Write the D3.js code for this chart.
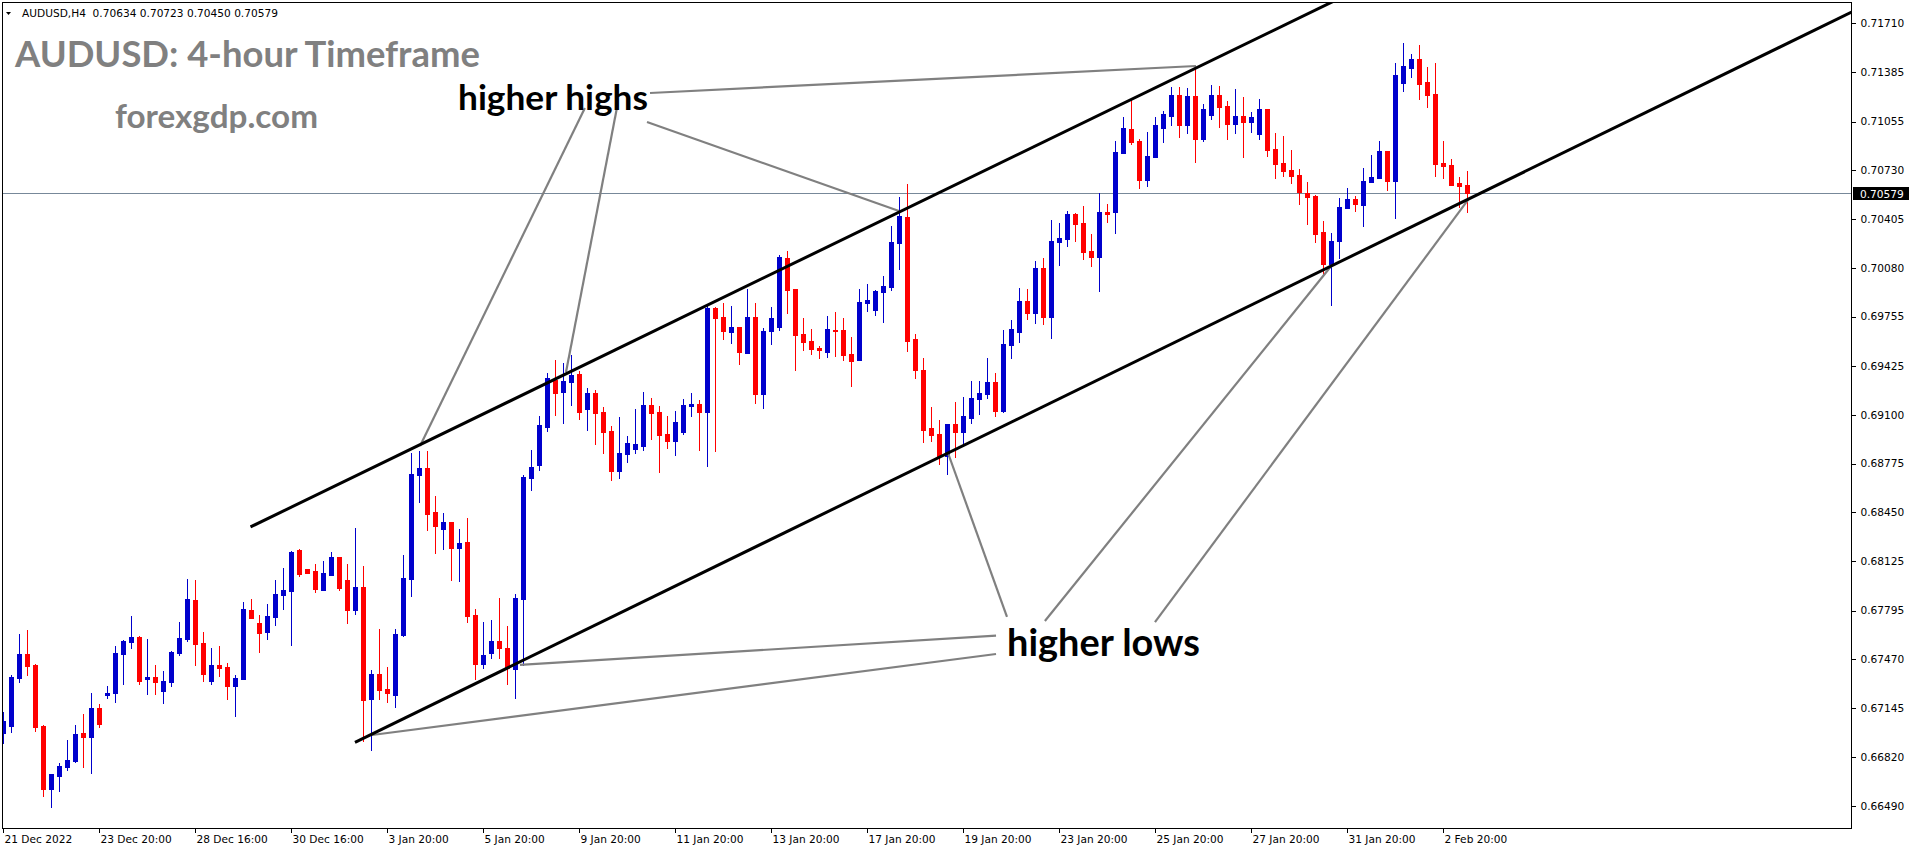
<!DOCTYPE html>
<html><head><meta charset="utf-8">
<script src="https://cdn.jsdelivr.net/npm/d3@7"></script>
<style>html,body{margin:0;padding:0;background:#fff;overflow:hidden}</style>
</head><body>
<svg id="c" width="1916" height="850"></svg>
<script>
// ---------- DATA ----------
const symbolInfo = "AUDUSD,H4  0.70634 0.70723 0.70450 0.70579";
const titleText = "AUDUSD: 4-hour Timeframe";
const siteText = "forexgdp.com";
const bidPrice = 0.70579;

const opens = [0.66981,0.67027,0.67347,0.67507,0.67432,0.67027,0.66605,0.66694,0.66754,0.66792,0.66978,0.66954,0.67145,0.67234,0.67247,0.67507,0.67587,0.67618,0.67336,0.67352,
0.67261,0.67321,0.67514,0.67607,0.67865,0.67578,0.67327,0.67432,0.67418,0.67294,0.67341,0.67798,0.67712,0.67654,0.67754,0.67901,0.67927,0.68198,0.68072,0.68058,
0.67934,0.68034,0.68152,0.67998,0.67801,0.67952,0.67207,0.67372,0.67272,0.67234,0.67634,0.68007,0.68701,0.68745,0.68452,0.68341,0.68385,0.68214,0.68254,0.67765,
0.67441,0.67514,0.67592,0.67545,0.67407,0.67874,0.68681,0.68765,0.69021,0.69332,0.69254,0.69321,0.69374,0.69141,0.69245,0.69118,0.68992,0.68727,0.68841,0.68874,
0.68894,0.69165,0.69118,0.68974,0.68927,0.68985,0.69161,0.69172,0.69121,0.69812,0.69752,0.69652,0.69685,0.69514,0.69752,0.69241,0.69658,0.69685,0.70145,0.69938,
0.69638,0.69592,0.69545,0.69518,0.69665,0.69665,0.69505,0.69465,0.69847,0.69798,0.69918,0.69952,0.70247,0.70418,0.69605,0.69398,0.69014,0.68972,0.68827,0.69038,
0.68987,0.69081,0.69207,0.69241,0.69318,0.69127,0.69567,0.69654,0.69858,0.69781,0.70078,0.69754,0.70252,0.70274,0.70438,0.70378,0.70192,0.70154,0.70452,0.70454,
0.70847,0.71005,0.70925,0.70667,0.70821,0.71014,0.71094,0.71232,0.71034,0.71225,0.70941,0.71101,0.71232,0.71158,0.71041,0.71092,0.71054,0.70974,0.71138,0.70874,
0.70778,0.70732,0.70698,0.70578,0.70558,0.70318,0.70107,0.70261,0.70481,0.70538,0.70498,0.70654,0.70681,0.70858,0.70661,0.71314,0.71414,0.71472,0.71318,0.71238,
0.70781,0.70765,0.70645,0.70634];
const highs = [0.67121,0.67367,0.67638,0.67665,0.67438,0.67032,0.66705,0.66778,0.66932,0.67032,0.67105,0.67245,0.67172,0.67292,0.67558,0.67598,0.67758,0.67622,0.67605,0.67432,
0.67392,0.67525,0.67718,0.68005,0.67998,0.67652,0.67545,0.67558,0.67445,0.67365,0.67852,0.67872,0.67765,0.67838,0.67998,0.68078,0.68192,0.68205,0.68075,0.68105,
0.68125,0.68185,0.68155,0.68105,0.68345,0.68092,0.67398,0.67672,0.67418,0.67672,0.68165,0.68845,0.68858,0.68858,0.68558,0.68445,0.68388,0.68338,0.68412,0.67805,
0.67718,0.67732,0.67881,0.67694,0.67907,0.68698,0.68865,0.69092,0.69378,0.69465,0.69445,0.69498,0.69392,0.69278,0.69265,0.69152,0.69025,0.69085,0.68958,0.69138,
0.69252,0.69212,0.69158,0.69094,0.69125,0.69205,0.69245,0.69198,0.69825,0.69818,0.69845,0.69825,0.69688,0.69938,0.69845,0.69678,0.69818,0.70165,0.70192,0.69941,
0.69745,0.69672,0.69558,0.69758,0.69785,0.69745,0.69618,0.69938,0.69972,0.69932,0.70025,0.70358,0.70552,0.70638,0.69638,0.69478,0.69154,0.69067,0.69041,0.69185,
0.69218,0.69325,0.69325,0.69478,0.69378,0.69665,0.69732,0.69945,0.69938,0.70125,0.70145,0.70398,0.70378,0.70458,0.70445,0.70492,0.70305,0.70578,0.70505,0.70925,
0.71085,0.71205,0.70938,0.70985,0.71085,0.71125,0.71285,0.71285,0.71278,0.71425,0.71172,0.71298,0.71292,0.71192,0.71272,0.71218,0.71118,0.71205,0.71141,0.70978,
0.70958,0.70865,0.70738,0.70652,0.70565,0.70392,0.70312,0.70545,0.70612,0.70558,0.70745,0.70832,0.70925,0.70861,0.71445,0.71578,0.71505,0.71565,0.71418,0.71445,
0.70925,0.70805,0.70685,0.70723];
const lows = [0.66909,0.66987,0.67321,0.67365,0.66994,0.66561,0.66487,0.66592,0.66732,0.66785,0.66754,0.66714,0.67021,0.67214,0.67187,0.67307,0.67547,0.67307,0.67241,0.67241,
0.67181,0.67294,0.67501,0.67594,0.67432,0.67327,0.67307,0.67361,0.67207,0.67094,0.67338,0.67744,0.67521,0.67607,0.67701,0.67807,0.67567,0.68027,0.68045,0.67921,
0.67931,0.68031,0.67934,0.67714,0.67774,0.66927,0.66867,0.67207,0.67187,0.67154,0.67627,0.67894,0.68521,0.68334,0.68181,0.68207,0.68001,0.67994,0.67721,0.67341,
0.67414,0.67481,0.67481,0.67307,0.67214,0.67434,0.68601,0.68734,0.68994,0.69101,0.69047,0.69167,0.69074,0.69001,0.68907,0.68847,0.68667,0.68681,0.68787,0.68847,
0.68867,0.68941,0.68721,0.68881,0.68834,0.68974,0.69094,0.68867,0.68761,0.68861,0.69607,0.69578,0.69438,0.69512,0.69178,0.69147,0.69574,0.69665,0.69781,0.69401,
0.69532,0.69505,0.69481,0.69487,0.69494,0.69467,0.69294,0.69462,0.69794,0.69765,0.69718,0.69932,0.70072,0.69525,0.69345,0.68921,0.68927,0.68774,0.68707,0.68821,
0.68894,0.69047,0.69107,0.69214,0.69094,0.69121,0.69478,0.69587,0.69741,0.69714,0.69707,0.69614,0.70101,0.70227,0.70261,0.70141,0.70094,0.69927,0.70387,0.70314,
0.70844,0.70905,0.70614,0.70627,0.70818,0.70921,0.71034,0.70954,0.70981,0.70787,0.70927,0.71074,0.71021,0.70941,0.70981,0.70821,0.70987,0.70941,0.70827,0.70681,
0.70694,0.70647,0.70507,0.70374,0.70254,0.70041,0.69832,0.70147,0.70478,0.70461,0.70361,0.70651,0.70678,0.70601,0.70414,0.71261,0.71354,0.71207,0.71154,0.70694,
0.70681,0.70631,0.70487,0.70450];
const closes = [0.67058,0.67352,0.67507,0.67427,0.67021,0.66605,0.66705,0.66758,0.66798,0.66972,0.66954,0.67145,0.67041,0.67245,0.67512,0.67592,0.67618,0.67327,0.67352,0.67321,
0.67325,0.67518,0.67612,0.67872,0.67574,0.67374,0.67432,0.67414,0.67294,0.67345,0.67805,0.67747,0.67647,0.67758,0.67905,0.67932,0.68185,0.68041,0.68047,0.67941,
0.68045,0.68152,0.67947,0.67801,0.67952,0.67201,0.67372,0.67267,0.67247,0.67638,0.68012,0.68705,0.68745,0.68441,0.68361,0.68385,0.68214,0.68245,0.67761,0.67441,
0.67501,0.67592,0.67547,0.67414,0.67881,0.68687,0.68754,0.69032,0.69345,0.69247,0.69325,0.69367,0.69121,0.69245,0.69114,0.68987,0.68727,0.68847,0.68914,0.68905,
0.69165,0.69114,0.68967,0.68927,0.69052,0.69165,0.69172,0.69121,0.69812,0.69747,0.69661,0.69685,0.69518,0.69752,0.69241,0.69658,0.69745,0.70152,0.69934,0.69632,
0.69585,0.69538,0.69534,0.69672,0.69658,0.69498,0.69458,0.69852,0.69865,0.69925,0.69958,0.70252,0.70425,0.69592,0.69398,0.69001,0.68967,0.68827,0.69038,0.68987,
0.69092,0.69212,0.69245,0.69318,0.69127,0.69572,0.69672,0.69858,0.69781,0.70078,0.69754,0.70258,0.70278,0.70438,0.70374,0.70187,0.70154,0.70452,0.70441,0.70852,
0.71012,0.70918,0.70667,0.70825,0.71032,0.71105,0.71232,0.71034,0.71225,0.70941,0.71138,0.71232,0.71154,0.71041,0.71092,0.71054,0.71085,0.71138,0.70867,0.70774,
0.70727,0.70694,0.70587,0.70554,0.70307,0.70107,0.70258,0.70485,0.70538,0.70507,0.70658,0.70685,0.70858,0.70661,0.71365,0.71425,0.71472,0.71307,0.71234,0.70774,
0.70761,0.70634,0.70627,0.70579];

const yTickValues = [0.71710,0.71385,0.71055,0.70730,0.70405,0.70080,0.69755,0.69425,0.69100,0.68775,0.68450,0.68125,0.67795,0.67470,0.67145,0.66820,0.66490];
const xTickBars = [0,12,24,36,48,60,72,84,96,108,120,132,144,156,168,180];
const xTickLabels = ["21 Dec 2022","23 Dec 20:00","28 Dec 16:00","30 Dec 16:00","3 Jan 20:00","5 Jan 20:00","9 Jan 20:00","11 Jan 20:00","13 Jan 20:00","17 Jan 20:00","19 Jan 20:00","23 Jan 20:00","25 Jan 20:00","27 Jan 20:00","31 Jan 20:00","2 Feb 20:00"];

// trend / channel lines anchored at (bar index, price)
const channelBars1 = [30.9, 170];   const channelPrices1 = [0.68352, 0.71953];
const channelBars2 = [43.96, 231.1]; const channelPrices2 = [0.66916, 0.71786];
// annotation pointer lines (bar index, price) pairs
const highPointerBars   = [[72.7,52.09],[76.7,70.34],[80.84,149.09],[80.46,111.96]];
const highPointerPrices = [[0.71145,0.68892],[0.71145,0.69385],[0.71245,0.71425],[0.71052,0.70458]];
const lowPointerBars    = [[124.09,64.59],[124.09,46.09],[125.46,118.09],[130.2,166.09],[143.96,183.09]];
const lowPointerPrices  = [[0.67628,0.67432],[0.67505,0.66965],[0.67752,0.68845],[0.67725,0.70098],[0.67718,0.70532]];

// ---------- DRAW ----------
const svg = d3.select('#c');
const P = {l:2, t:2, r:1852, b:829};
const x = d3.scaleLinear().domain([0,183]).range([3.3,1467.3]);
const y = d3.scaleLinear().domain([0.66490,0.71710]).range([806.25,23.25]);
const BULL = '#0000CC', BEAR = '#FF0000';
const axisFont = 'DejaVu Sans, Verdana, sans-serif';

svg.append('rect').attr('width',1916).attr('height',850).attr('fill','#fff');
svg.append('defs').append('clipPath').attr('id','clip').append('rect')
  .attr('x',P.l+1).attr('y',P.t+1).attr('width',P.r-P.l-1).attr('height',P.b-P.t-1);

const plot = svg.append('g').attr('clip-path','url(#clip)');

// bid line
const by = Math.round(y(bidPrice)) + 0.5;
plot.append('line').attr('x1',P.l).attr('x2',P.r).attr('y1',by).attr('y2',by)
  .attr('stroke','#778899').attr('stroke-width',1);

const candles = d3.range(opens.length).map(i=>({i,o:opens[i],h:highs[i],l:lows[i],c:closes[i]}));
const cg = plot.append('g').attr('shape-rendering','crispEdges');
cg.selectAll('rect.w').data(candles).join('rect').attr('class','w')
  .attr('x',d=>Math.floor(x(d.i))).attr('width',1)
  .attr('y',d=>Math.round(y(d.h)))
  .attr('height',d=>Math.max(1,Math.round(y(d.l))-Math.round(y(d.h))+1))
  .attr('fill',d=>d.c>=d.o?BULL:BEAR);
cg.selectAll('rect.b').data(candles).join('rect').attr('class','b')
  .attr('x',d=>Math.floor(x(d.i))-2).attr('width',5)
  .attr('y',d=>Math.round(y(Math.max(d.o,d.c))))
  .attr('height',d=>Math.max(2,Math.round(y(Math.min(d.o,d.c)))-Math.round(y(Math.max(d.o,d.c)))+1))
  .attr('fill',d=>d.c>=d.o?BULL:BEAR);

// gray pointer lines
const pointers = [];
highPointerBars.forEach((b,k)=>pointers.push({b, p:highPointerPrices[k]}));
lowPointerBars.forEach((b,k)=>pointers.push({b, p:lowPointerPrices[k]}));
plot.selectAll('line.ptr').data(pointers).join('line').attr('class','ptr')
  .attr('x1',d=>x(d.b[0])).attr('y1',d=>y(d.p[0]))
  .attr('x2',d=>x(d.b[1])).attr('y2',d=>y(d.p[1]))
  .attr('stroke','#808080').attr('stroke-width',2.2);

// channel lines
const channels = [{b:channelBars1,p:channelPrices1},{b:channelBars2,p:channelPrices2}];
plot.selectAll('line.ch').data(channels).join('line').attr('class','ch')
  .attr('x1',d=>x(d.b[0])).attr('y1',d=>y(d.p[0]))
  .attr('x2',d=>x(d.b[1])).attr('y2',d=>y(d.p[1]))
  .attr('stroke','#000').attr('stroke-width',3);

// border
svg.append('rect').attr('x',P.l+0.5).attr('y',P.t+0.5)
  .attr('width',P.r-P.l-1).attr('height',P.b-P.t-1)
  .attr('fill','none').attr('stroke','#000').attr('stroke-width',1).attr('shape-rendering','crispEdges');

// y axis
const ya = svg.append('g').attr('transform',`translate(${P.r-0.5},0)`)
  .call(d3.axisRight(y).tickValues(yTickValues).tickFormat(d3.format('.5f')).tickSize(4).tickPadding(5));
ya.select('.domain').remove();
ya.selectAll('line').attr('stroke','#000').attr('shape-rendering','crispEdges');
ya.selectAll('text').attr('font-family',axisFont).attr('font-size','10.6px').attr('fill','#000');

// x axis
const xa = svg.append('g').attr('transform',`translate(0,${P.b-0.5})`)
  .call(d3.axisBottom(x).tickValues(xTickBars).tickFormat((d,i)=>xTickLabels[i]).tickSize(4).tickPadding(3));
xa.select('.domain').remove();
xa.selectAll('.tick').attr('transform',d=>`translate(${Math.floor(x(d))+0.5},0)`);
xa.selectAll('line').attr('stroke','#000').attr('shape-rendering','crispEdges');
xa.selectAll('text').attr('font-family',axisFont).attr('font-size','10.6px').attr('fill','#000')
  .attr('text-anchor','start').attr('dx','1');

// bid price label
const bl = svg.append('g');
bl.append('rect').attr('x',P.r+1).attr('y',Math.round(y(bidPrice))-6).attr('width',56).attr('height',13).attr('fill','#000');
bl.append('text').attr('x',P.r+8).attr('y',Math.round(y(bidPrice))+4.5).text(d3.format('.5f')(bidPrice))
  .attr('font-family',axisFont).attr('font-size','10.6px').attr('fill','#fff');

// header
svg.append('path').attr('d','M6,12 L11,12 L8.5,15 Z').attr('fill','#000');
const hdr = svg.append('text').attr('x',22).attr('y',17).text(symbolInfo)
  .attr('font-family',axisFont).attr('font-size','10.6px').attr('fill','#000').attr('xml:space','preserve').style('white-space','pre');

function fit(sel, target){
  const w = sel.node().getComputedTextLength();
  const fs = parseFloat(sel.attr('font-size'));
  sel.attr('font-size', (fs*target/w).toFixed(2));
}
const bigFont = 'Lato, "Open Sans", sans-serif';
const t1 = svg.append('text').attr('x',15).attr('y',67).text(titleText)
  .attr('font-family',bigFont).attr('font-weight',700).attr('font-size',30).attr('fill','#808080');
fit(t1,465);
const t2 = svg.append('text').attr('x',115).attr('y',128).text(siteText)
  .attr('font-family',bigFont).attr('font-weight',700).attr('font-size',30).attr('fill','#808080');
fit(t2,203);
const a1 = svg.append('text').attr('x',458).attr('y',110).text('higher highs')
  .attr('font-family',bigFont).attr('font-weight',700).attr('font-size',30).attr('fill','#000');
fit(a1,190);
const a2 = svg.append('text').attr('x',1007).attr('y',656).text('higher lows')
  .attr('font-family',bigFont).attr('font-weight',700).attr('font-size',30).attr('fill','#000');
fit(a2,193);
</script>
</body></html>
